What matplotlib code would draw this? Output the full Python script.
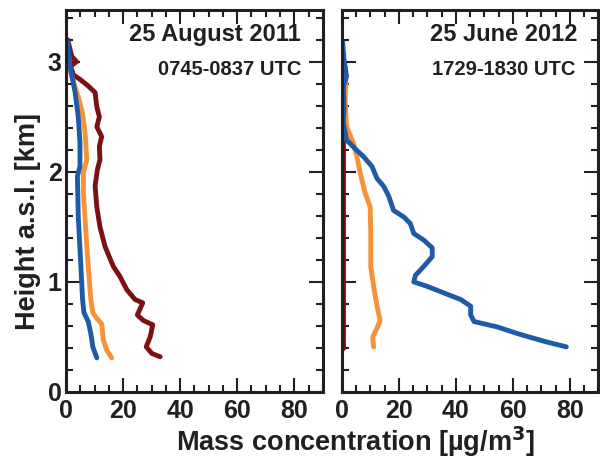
import numpy as np
import matplotlib.pyplot as plt
from matplotlib.ticker import MultipleLocator

plt.rcParams['font.family'] = ['Liberation Sans', 'DejaVu Sans']
plt.rcParams['font.weight'] = 'bold'

# ---------------------------------------------------------------
# Perfis verticais de concentração mássica (µg/m3 x km a.s.l.)
# ---------------------------------------------------------------

# 25 August 2011
ago_azul_x = [0.6, 1.4, 3.2, 4.3, 4.9, 4.9, 4.0, 4.3, 5.1, 5.8, 6.3, 7.8, 8.7, 9.4, 10.8]
ago_azul_y = [3.18, 2.96, 2.72, 2.50, 2.26, 2.05, 1.96, 1.59, 1.20, 0.84, 0.72, 0.64, 0.53, 0.41, 0.31]

ago_laranja_x = [1.0, 2.0, 4.3, 5.8, 6.7, 7.3, 6.1, 6.1, 7.0, 7.8, 8.7, 9.4, 10.8, 12.5, 13.1, 14.3, 16.0]
ago_laranja_y = [2.98, 2.87, 2.68, 2.53, 2.35, 2.11, 1.99, 1.81, 1.44, 1.14, 0.84, 0.72, 0.67, 0.62, 0.47, 0.38, 0.31]

ago_vermelho_x = [0.6, 2.0, 3.7, 1.6, 2.6, 4.9, 7.8, 10.2, 10.8, 11.7, 10.8, 12.5, 11.7, 11.9, 11.0,
                  10.2, 10.8, 11.9, 13.7, 16.6, 18.9, 21.3, 24.2, 26.9, 25.0, 27.1, 30.4, 29.5, 28.1,
                  30.1, 33.0]
ago_vermelho_y = [3.20, 3.05, 3.00, 2.96, 2.88, 2.84, 2.78, 2.72, 2.59, 2.50, 2.41, 2.32, 2.23, 2.11, 2.02,
                  1.87, 1.68, 1.50, 1.32, 1.14, 1.05, 0.93, 0.84, 0.81, 0.70, 0.65, 0.61, 0.50, 0.41,
                  0.35, 0.32]

# 25 June 2012
jun_azul_x = [0.2, 0.7, 1.6, 0.5, 0.7, 0.5, 1.6, 4.6, 7.5, 10.5, 12.3, 14.6, 16.4, 18.1, 21.7, 24.0,
              25.2, 28.7, 31.7, 31.7, 28.7, 25.8, 25.2, 29.9, 35.8, 41.7, 45.2, 45.2, 46.4, 54.7,
              61.7, 71.1, 78.8]
jun_azul_y = [3.18, 3.02, 2.87, 2.78, 2.59, 2.44, 2.29, 2.21, 2.14, 2.05, 1.94, 1.87, 1.78, 1.65, 1.59, 1.53,
              1.44, 1.38, 1.31, 1.23, 1.14, 1.06, 1.00, 0.96, 0.90, 0.84, 0.78, 0.70, 0.64, 0.59,
              0.53, 0.46, 0.41]

jun_laranja_x = [1.1, 1.4, 1.1, 1.6, 4.0, 5.2, 6.4, 8.1, 9.9, 10.1, 10.1, 11.1, 12.3, 13.4, 12.3, 10.8, 11.1]
jun_laranja_y = [2.96, 2.84, 2.65, 2.41, 2.26, 2.14, 1.99, 1.81, 1.68, 1.44, 1.14, 0.96, 0.78, 0.65, 0.58, 0.50, 0.41]

jun_vermelho_x = [0.5, 0.5, 0.5]
jun_vermelho_y = [2.40, 1.40, 0.40]

azul = '#1f5aa6'
laranja = '#f7923a'
vermelho = '#7b1113'
cor_texto = '#231f20'

fig = plt.figure(figsize=(6.0, 4.66), dpi=100)
ax1 = fig.add_axes([0.110, 0.1588, 0.428, 0.8197])
ax2 = fig.add_axes([0.570, 0.1588, 0.427, 0.8197])

lw = 3.5
for ax in (ax1, ax2):
    ax.set_xlim(0, 90)
    ax.set_ylim(0, 3.47)
    ax.xaxis.set_major_locator(MultipleLocator(20))
    ax.xaxis.set_minor_locator(MultipleLocator(5))
    ax.yaxis.set_major_locator(MultipleLocator(1))
    ax.yaxis.set_minor_locator(MultipleLocator(0.2))
    ax.tick_params(which='both', direction='in', top=True, right=True, width=1.5,
                   color=cor_texto, labelsize=18, labelcolor=cor_texto)
    ax.tick_params(axis='x', pad=5)
    ax.tick_params(axis='y', pad=3)
    ax.tick_params(which='major', length=10)
    ax.tick_params(which='minor', length=5)
    for s in ax.spines.values():
        s.set_linewidth(2.2)
        s.set_color(cor_texto)
    for lab in ax.get_xticklabels() + ax.get_yticklabels():
        lab.set_fontweight('bold')

ax1.plot(ago_vermelho_x, ago_vermelho_y, color=vermelho, lw=lw, solid_capstyle='round', solid_joinstyle='round')
ax1.plot(ago_laranja_x, ago_laranja_y, color=laranja, lw=lw, solid_capstyle='round', solid_joinstyle='round')
ax1.plot(ago_azul_x, ago_azul_y, color=azul, lw=lw, solid_capstyle='round', solid_joinstyle='round')

ax2.plot(jun_vermelho_x, jun_vermelho_y, color=vermelho, lw=lw, solid_capstyle='round')
ax2.plot(jun_laranja_x, jun_laranja_y, color=laranja, lw=lw, solid_capstyle='round', solid_joinstyle='round')
ax2.plot(jun_azul_x, jun_azul_y, color=azul, lw=lw, solid_capstyle='round', solid_joinstyle='round')
ax2.tick_params(labelleft=False)

ax1.text(0.915, 0.935, '25 August 2011', transform=ax1.transAxes, ha='right', va='center',
         fontsize=17, fontweight='bold', color=cor_texto)
ax1.text(0.915, 0.845, '0745-0837 UTC', transform=ax1.transAxes, ha='right', va='center',
         fontsize=14.5, fontweight='bold', color=cor_texto)
ax2.text(0.92, 0.935, '25 June 2012', transform=ax2.transAxes, ha='right', va='center',
         fontsize=17, fontweight='bold', color=cor_texto)
ax2.text(0.91, 0.845, '1729-1830 UTC', transform=ax2.transAxes, ha='right', va='center',
         fontsize=14.5, fontweight='bold', color=cor_texto)

fig.text(0.592, 1 - 442 / 466, 'Mass concentration [µg/m$^\\mathbf{3}$]', ha='center', va='center',
         fontsize=19.5, fontweight='bold', color=cor_texto)
fig.text(0.047, 1 - 222 / 466, 'Height a.s.l. [km]', ha='center', va='center', rotation=90,
         fontsize=19.5, fontweight='bold', color=cor_texto)

fig.savefig('out.png', dpi=100)
